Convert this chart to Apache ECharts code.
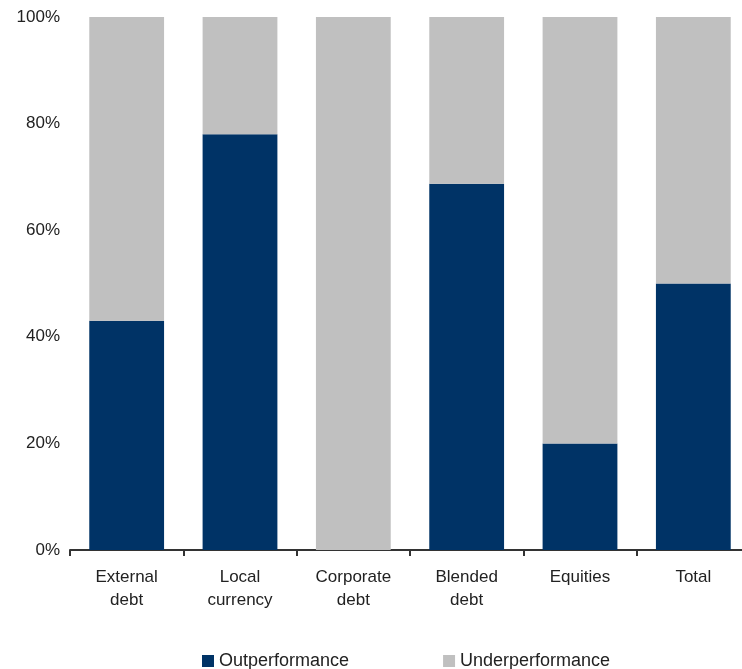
<!DOCTYPE html>
<html><head><meta charset="utf-8">
<script src="https://cdn.jsdelivr.net/npm/echarts@6/dist/echarts.min.js"></script>
<style>html,body{margin:0;padding:0;background:#fff}#c{width:742px;height:669px}</style>
</head><body><div id="c"></div>
<script>
const categories = ["External\ndebt", "Local\ncurrency", "Corporate\ndebt", "Blended\ndebt", "Equities", "Total"];
const outperformance = [43, 78, 0, 68.7, 20, 50];
const underperformance = [57, 22, 100, 31.3, 80, 50];
const seriesNames = ["Outperformance", "Underperformance"];

const chart = echarts.init(document.getElementById('c'));
const font = "Liberation Sans, Arial, sans-serif";
chart.setOption({
  animation: false,
  grid: { left: 70, width: 680, top: 17, bottom: 119, containLabel: false, outerBoundsMode: 'none' },
  legend: {
    left: 197, top: 647, itemWidth: 12, itemHeight: 12, itemGap: 94,
    icon: 'rect',
    textStyle: { fontFamily: font, fontSize: 18, color: '#222' },
    data: seriesNames
  },
  xAxis: {
    type: 'category', data: categories,
    axisLine: { lineStyle: { color: '#333', width: 2 } },
    axisTick: { show: true, alignWithLabel: false, length: 6, lineStyle: { color: '#333', width: 2 } },
    axisLabel: { fontFamily: font, fontSize: 17, color: '#222', lineHeight: 23, margin: 16 }
  },
  yAxis: {
    type: 'value', min: 0, max: 100, interval: 20,
    axisLine: { show: false }, axisTick: { show: false },
    splitLine: { show: false },
    axisLabel: { formatter: '{value}%', fontFamily: font, fontSize: 17, color: '#222', margin: 10 }
  },
  series: [
    { name: seriesNames[0], type: 'bar', stack: 's', data: outperformance, barWidth: '66%', itemStyle: { color: '#003366' } },
    { name: seriesNames[1], type: 'bar', stack: 's', data: underperformance, barWidth: '66%', itemStyle: { color: '#c0c0c0' } }
  ]
});
</script></body></html>
